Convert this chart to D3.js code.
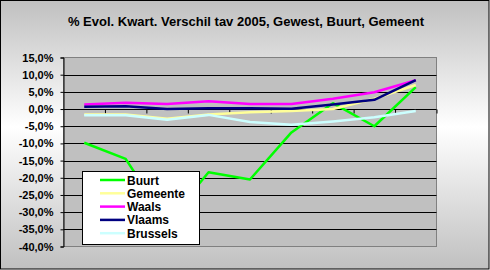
<!DOCTYPE html>
<html>
<head>
<meta charset="utf-8">
<script src="https://cdn.jsdelivr.net/npm/d3@7"></script>
<style>
    body { margin: 0; }
    text { font-family: 'Liberation Sans', Arial, sans-serif; font-weight: bold; fill: #000; }
</style>
</head>
<body>
<div id="chart-vis"></div>
<script>
// quarters (no labels shown on the axis)
const categories = ['K1', 'K2', 'K3', 'K4', 'K5', 'K6', 'K7', 'K8', 'K9'];
const seriesNames = ['Buurt', 'Gemeente', 'Waals', 'Vlaams', 'Brussels'];
const buurt = [-9.8, -14.5, -33, -18.4, -20.5, -6.8, 1.7, -5.0, 6.4];
const gemeente = [-1.6, -1.6, -2.8, -1.6, -0.9, -0.6, 0.0, 3.0, 7.0];
const waals = [1.3, 1.8, 1.5, 2.3, 1.5, 1.5, 3.0, 4.9, 8.4];
const vlaams = [0.7, 0.8, 0.0, 0.2, 0.2, 0.1, 1.3, 2.7, 8.4];
const brussels = [-1.8, -1.8, -3.1, -1.7, -3.8, -4.6, -3.6, -2.4, -0.6];
const yTicks = [15, 10, 5, 0, -5, -10, -15, -20, -25, -30, -35, -40];
const title = '% Evol. Kwart. Verschil tav 2005, Gewest, Buurt, Gemeent';

const seriesValues = [buurt, gemeente, waals, vlaams, brussels];
const colors = ['#00ff00', '#ffff99', '#ff00ff', '#000080', '#ccffff'];

const width = 490;
const height = 270;
const plot = { left: 63.5, right: 436.5, top: 57.5, bottom: 246.5 };

const svg = d3.select('#chart-vis').append('svg')
    .attr('width', width)
    .attr('height', height);

const grad = svg.append('defs').append('linearGradient')
    .attr('id', 'bg')
    .attr('x1', 0).attr('y1', 0).attr('x2', 0).attr('y2', 1);
grad.append('stop').attr('offset', '0').attr('stop-color', '#c0c0c0');
grad.append('stop').attr('offset', '0.47').attr('stop-color', '#ffffff');
grad.append('stop').attr('offset', '1').attr('stop-color', '#c0c0c0');

svg.append('rect')
    .attr('x', 0.5).attr('y', 0.5)
    .attr('width', width - 1.5).attr('height', height - 1.5)
    .attr('fill', 'url(#bg)')
    .attr('stroke', '#000')
    .attr('stroke-width', 1);

svg.append('text')
    .attr('x', 246)
    .attr('y', 26)
    .attr('text-anchor', 'middle')
    .style('font-size', '13px')
    .text(title);

const y = d3.scaleLinear()
    .domain([-40, 15])
    .range([plot.bottom, plot.top]);

// edges of the category bands
const xEdge = d3.scaleLinear()
    .domain([0, categories.length])
    .range([plot.left, plot.right]);

svg.append('rect')
    .attr('x', plot.left).attr('y', plot.top)
    .attr('width', plot.right - plot.left)
    .attr('height', plot.bottom - plot.top)
    .attr('fill', '#c0c0c0')
    .attr('stroke', '#808080');

svg.append('g')
    .selectAll('line')
    .data(yTicks.filter(t => t !== 15 && t !== -40))
    .enter()
    .append('line')
    .attr('x1', plot.left)
    .attr('x2', plot.right)
    .attr('y1', d => Math.round(y(d)) + 0.5)
    .attr('y2', d => Math.round(y(d)) + 0.5)
    .attr('stroke', '#000');

const yAxis = svg.append('g')
    .attr('transform', `translate(${plot.left},0)`)
    .call(d3.axisLeft(y)
        .tickValues(yTicks)
        .tickSize(3)
        .tickPadding(7)
        .tickFormat(d => `${d3.format('.1f')(d).replace('.', ',').replace('−', '-')}%`));
yAxis.select('.domain').attr('stroke', '#000');
yAxis.selectAll('text')
    .style('font-size', '11px')
    .style('font-family', "'Liberation Sans', Arial, sans-serif")
    .style('font-weight', 'bold');

const xAxis = svg.append('g')
    .attr('transform', `translate(0,${Math.round(y(0)) + 0.5})`)
    .call(d3.axisBottom(xEdge)
        .tickValues(d3.range(1, categories.length + 1))
        .tickSize(4)
        .tickFormat(''));
xAxis.select('.domain').remove();

const line = d3.line()
    .x((d, i) => xEdge(i + 0.5))
    .y(d => y(d));

seriesValues.forEach((vals, k) => {
    svg.append('path')
        .datum(vals)
        .attr('d', line)
        .attr('fill', 'none')
        .attr('stroke', colors[k])
        .attr('stroke-width', 2.5)
        .attr('stroke-linejoin', 'round');
});

// legend
const legend = svg.append('g');
legend.append('rect')
    .attr('x', 82.5).attr('y', 171.5)
    .attr('width', 117).attr('height', 73)
    .attr('fill', '#fff')
    .attr('stroke', '#000');

seriesNames.forEach((name, k) => {
    const ly = 180 + k * 13.3;
    legend.append('line')
        .attr('x1', 100).attr('x2', 125)
        .attr('y1', ly).attr('y2', ly)
        .attr('stroke', colors[k])
        .attr('stroke-width', 2.5);
    legend.append('text')
        .attr('x', 127)
        .attr('y', ly + 4.5)
        .style('font-size', '12px')
        .text(name);
});
</script>
</body>
</html>
